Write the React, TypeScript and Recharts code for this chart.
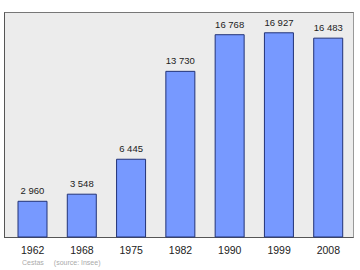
import { Bar, BarChart, LabelList, XAxis, YAxis } from "recharts";

const years = ["1962", "1968", "1975", "1982", "1990", "1999", "2008"];
const population = [2960, 3548, 6445, 13730, 16768, 16927, 16483];

const data = years.map((year, i) => ({ year, population: population[i] }));

// french style thousands, non-breaking so the label never wraps
const fmt = (v: number) => String(v).replace(/\B(?=(\d{3})+(?!\d))/g, "\u00a0");

const font = "'Liberation Sans', Arial, sans-serif";

export default function App() {
  return (
    <div style={{ position: "fixed", left: 0, top: 0, width: 360, height: 270, background: "#fff", fontFamily: font }}>
      <div
        style={{
          position: "absolute",
          left: 4,
          top: 12,
          width: 348,
          height: 224,
          background: "#ececec",
          borderLeft: "1px solid #555",
          borderBottom: "1px solid #555",
          borderTop: "1px solid #777",
          borderRight: "1px solid #999",
        }}
      />
      <div style={{ position: "absolute", left: 0, top: 0 }}>
        <BarChart width={360} height={270} data={data} margin={{ top: 12, right: 7, bottom: 0, left: 4 }}>
          <XAxis
            dataKey="year"
            height={33}
            axisLine={false}
            tickLine={false}
            tickMargin={4}
            padding={{ left: 4, right: 0 }}
            tick={{ fontSize: 10.5, fill: "#222", fontFamily: font }}
            interval={0}
          />
          <YAxis hide domain={[0, 18650]} />
          <Bar dataKey="population" fill="#7799ff" stroke="#223377" strokeWidth={1} barSize={29} isAnimationActive={false}>
            <LabelList
              dataKey="population"
              position="top"
              offset={7}
              formatter={(v: any) => fmt(Number(v))}
              style={{ fontSize: 9.5, fill: "#222", fontFamily: font }}
            />
          </Bar>
        </BarChart>
      </div>
      <div style={{ position: "absolute", left: 22, top: 259, fontSize: 7, color: "#aaa", whiteSpace: "pre", fontFamily: font }}>
        <span>Cestas</span>
        <span style={{ marginLeft: 10 }}>(source: Insee)</span>
      </div>
    </div>
  );
}
